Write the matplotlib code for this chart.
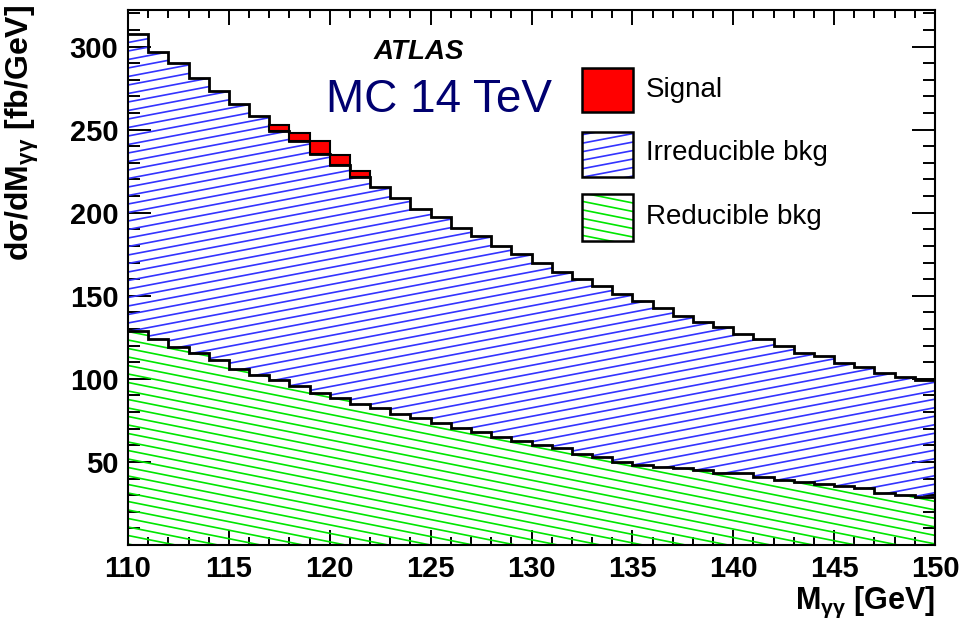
import numpy as np
import matplotlib
matplotlib.use('Agg')
import matplotlib.pyplot as plt
from matplotlib.collections import LineCollection
from matplotlib.patches import Rectangle
from matplotlib.ticker import MultipleLocator

plt.rcParams['font.family'] = ['Liberation Sans', 'DejaVu Sans']
plt.rcParams['mathtext.default'] = 'regular'

# diphoton mass bins, 1 GeV wide
edges = np.arange(110, 151, 1)

# reducible background (fb/GeV), bottom of the stack
reducible = np.array([128.8, 124.0, 119.3, 115.3, 111.3, 106.0, 102.6, 99.4, 95.4, 91.4,
                      88.4, 85.0, 82.3, 78.9, 76.3, 73.7, 70.3, 68.3, 64.9, 62.8,
                      60.2, 58.2, 54.8, 52.8, 50.2, 48.2, 46.8, 46.2, 45.2, 43.5,
                      43.2, 41.2, 39.2, 38.1, 36.7, 35.5, 34.1, 31.5, 30.1, 29.1])

# irreducible background (fb/GeV), stacked on top
irreducible = np.array([178.7, 173.0, 170.7, 165.7, 162.2, 159.5, 155.4, 149.6, 147.6, 144.1,
                        140.6, 136.5, 133.2, 130.1, 125.7, 123.8, 120.7, 117.7, 115.1, 112.2,
                        109.5, 106.4, 105.2, 103.2, 100.8, 98.8, 95.8, 91.8, 89.3, 88.0,
                        83.8, 82.8, 80.8, 77.7, 76.8, 74.3, 72.9, 72.3, 70.9, 70.3])

# signal, only non-zero around 117-122 GeV
signal_edges = np.arange(117, 123, 1)
signal = np.array([4.0, 5.0, 7.5, 6.0, 3.5])

total = reducible + irreducible

BLUE = (0.2, 0.2, 1.0)
GREEN = (0.0, 0.9, 0.0)

fig = plt.figure(figsize=(9.63, 6.18), dpi=100)
ax = fig.add_axes([128 / 963, 73 / 618, 807 / 963, 535 / 618])

AX_W, AX_H = 807.0, 535.0


def hatch(clip, slope_px, gap_px, color, zorder=2):
    # shallow parallel lines in axes fraction, clipped to a patch
    slope = slope_px * AX_W / AX_H
    gap = gap_px / AX_H
    offs = np.arange(-2.0, 2.0, gap)
    segs = [[(0, b), (1, b + slope)] for b in offs]
    lc = LineCollection(segs, colors=color, linewidths=1.2, transform=ax.transAxes,
                        zorder=zorder)
    ax.add_collection(lc)
    lc.set_clip_path(clip)


red_patch = ax.stairs(reducible, edges, baseline=0, fill=True, facecolor='white',
                      edgecolor='none', zorder=1)
irr_patch = ax.stairs(total, edges, baseline=reducible, fill=True, facecolor='white',
                      edgecolor='none', zorder=1)
hatch(red_patch, -0.20, 8.5, GREEN)
hatch(irr_patch, 0.19, 8.5, BLUE)

# outlines
ax.stairs(reducible, edges, baseline=None, color='black', linewidth=2, zorder=3)
ax.stairs(total, edges, baseline=None, color='black', linewidth=2, zorder=3)

i0 = int(signal_edges[0] - edges[0])
base = total[i0:i0 + len(signal)]
ax.stairs(base + signal, signal_edges, baseline=base, fill=True, facecolor='red',
          edgecolor='black', linewidth=1.5, zorder=4)

ax.set_xlim(110, 150)
ax.set_ylim(0, 322)
ax.set_xticks(np.arange(110, 151, 5))
ax.set_yticks(np.arange(50, 301, 50))
ax.xaxis.set_minor_locator(MultipleLocator(1))
ax.yaxis.set_minor_locator(MultipleLocator(10))
ax.tick_params(which='both', direction='in', top=True, right=True, width=1.4, labelsize=21)
ax.tick_params(axis='x', which='major', length=10.8, pad=7)
ax.tick_params(axis='x', which='minor', length=5.8)
ax.tick_params(axis='y', which='major', length=16.6, pad=7)
ax.tick_params(axis='y', which='minor', length=8.6)
for lab in ax.get_xticklabels() + ax.get_yticklabels():
    lab.set_fontweight('bold')
for s in ax.spines.values():
    s.set_linewidth(1.5)
    s.set_zorder(5)

fig.text(22 / 963, 1 - 5 / 618, 'dσ/dM$_{γγ}$ [fb/GeV]', rotation=90, ha='center', va='top',
         fontsize=23, fontweight='bold')
fig.text(935 / 963, 1 - 602 / 618, 'M$_{γγ}$ [GeV]', ha='right', va='center',
         fontsize=22, fontweight='bold')

fig.text(419 / 963, 1 - 52 / 618, 'ATLAS', ha='center', va='center', fontsize=20,
         fontweight='bold', fontstyle='italic')
fig.text(439 / 963, 1 - 100 / 618, 'MC 14 TeV', ha='center', va='center', fontsize=33,
         color='#000070')

# legend
leg_x0, leg_x1 = (581.7 - 128) / AX_W, (633.3 - 128) / AX_W
leg_rows = [('Signal', 68.3, 111.7, 90), ('Irreducible bkg', 131.7, 176.7, 153),
            ('Reducible bkg', 194.0, 240.7, 217)]
for name, ytop, ybot, yc in leg_rows:
    y0 = (545 - ybot) / AX_H
    y1 = (545 - ytop) / AX_H
    face = 'red' if name == 'Signal' else 'white'
    box = Rectangle((leg_x0, y0), leg_x1 - leg_x0, y1 - y0, transform=ax.transAxes,
                    facecolor=face, edgecolor='none', zorder=6)
    ax.add_patch(box)
    if name == 'Irreducible bkg':
        hatch(box, 0.19, 8.5, BLUE, zorder=7)
    elif name == 'Reducible bkg':
        hatch(box, -0.20, 8.5, GREEN, zorder=7)
    ax.add_patch(Rectangle((leg_x0, y0), leg_x1 - leg_x0, y1 - y0, transform=ax.transAxes,
                           facecolor='none', edgecolor='black', linewidth=1.8, zorder=8))
    fig.text(646 / 963, 1 - yc / 618, name, ha='left', va='center', fontsize=20)

fig.savefig('out.png', dpi=100)
